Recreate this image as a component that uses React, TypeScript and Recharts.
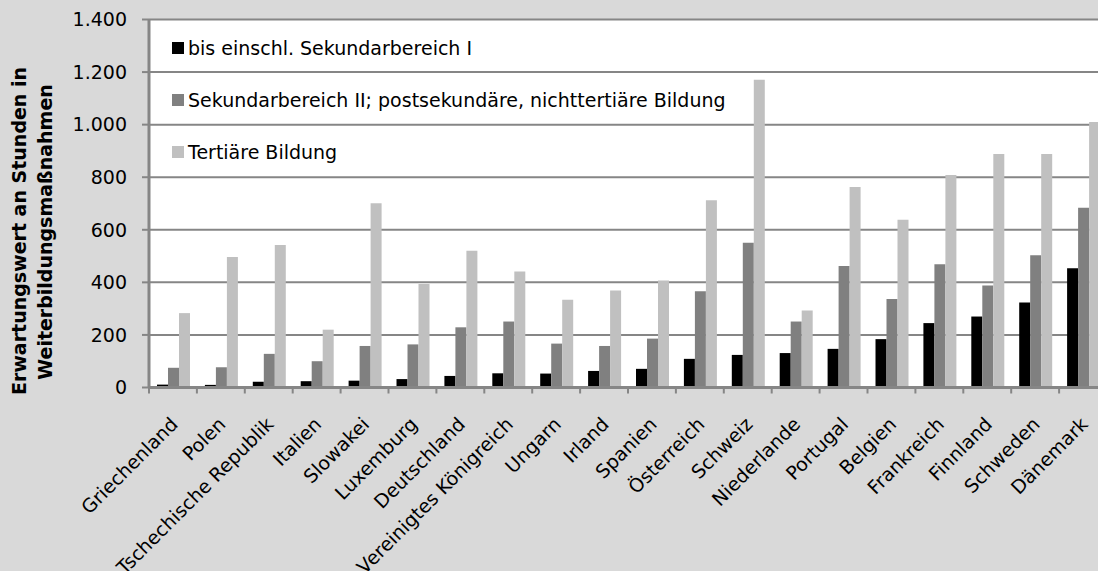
import { Bar, BarChart, CartesianGrid, Label, Legend, XAxis, YAxis } from "recharts";

const countries = [
  "Griechenland",
  "Polen",
  "Tschechische Republik",
  "Italien",
  "Slowakei",
  "Luxemburg",
  "Deutschland",
  "Vereinigtes Königreich",
  "Ungarn",
  "Irland",
  "Spanien",
  "Österreich",
  "Schweiz",
  "Niederlande",
  "Portugal",
  "Belgien",
  "Frankreich",
  "Finnland",
  "Schweden",
  "Dänemark",
];
const sekI = [11, 10, 22, 24, 26, 32, 44, 54, 53, 63, 71, 109, 124, 131, 147, 184, 245, 270, 323, 454];
const sekII = [75, 77, 128, 100, 158, 164, 229, 251, 167, 158, 186, 366, 551, 251, 462, 337, 469, 388, 503, 684];
const tertiaer = [283, 496, 542, 220, 701, 394, 520, 441, 334, 369, 407, 712, 1171, 293, 763, 638, 808, 888, 888, 1010];
const yTicks = [0, 200, 400, 600, 800, 1000, 1200, 1400];
const seriesNames = [
  "bis einschl. Sekundarbereich I",
  "Sekundarbereich II; postsekundäre, nichttertiäre Bildung",
  "Tertiäre Bildung",
];

const data = countries.map((land, i) => ({
  land,
  sekI: sekI[i],
  sekII: sekII[i],
  tertiaer: tertiaer[i],
}));

const W = 1107;
const H = 571;
const AXIS_W = 149;
const band = (W - AXIS_W) / countries.length;
const FONT = "'DejaVu Sans', Verdana, sans-serif";
const GRID = "#868686";

const fmt = (v: number) => v.toLocaleString("de-DE");

function CountryTick({ x, y, payload }: any) {
  const tx = x + 6;
  const ty = y + 38;
  return (
    <g>
      <line x1={x - band / 2} y1={y} x2={x - band / 2} y2={y + 6} stroke={GRID} strokeWidth={2} />
      <text
        x={tx}
        y={ty}
        transform={`rotate(-45, ${tx}, ${ty})`}
        textAnchor="end"
        fontSize={19}
        fill="#000"
      >
        {payload.value}
      </text>
    </g>
  );
}

function YTitle() {
  return (
    <g fontWeight="bold" fontSize={19} fill="#000">
      <text transform="translate(26,231) rotate(-90)" textAnchor="middle">
        Erwartungswert an Stunden in
      </text>
      <text transform="translate(51.5,232) rotate(-90)" textAnchor="middle">
        Weiterbildungsmaßnahmen
      </text>
    </g>
  );
}

function LegendBox({ payload }: any) {
  return (
    <div style={{ fontSize: 19, fontFamily: FONT, color: "#000" }}>
      {(payload || []).map((p: any) => (
        <div key={p.value} style={{ height: 52, display: "flex", alignItems: "center" }}>
          <span style={{ width: 12, height: 12, background: p.color, marginRight: 4, display: "inline-block" }} />
          <span>{p.value}</span>
        </div>
      ))}
    </div>
  );
}

export default function App() {
  return (
    <div
      style={{
        position: "absolute",
        left: 0,
        top: 0,
        width: 1098,
        height: H,
        overflow: "hidden",
        background: "#d9d9d9",
        fontFamily: FONT,
      }}
    >
      <BarChart
        width={W}
        height={H}
        data={data}
        margin={{ top: 19.5, right: 0, bottom: 0, left: 0 }}
        barCategoryGap={8}
        barGap={0}
      >
        <CartesianGrid vertical={false} stroke={GRID} strokeWidth={2} fill="#ffffff" fillOpacity={1} />
        <XAxis
          dataKey="land"
          interval={0}
          height={183.5}
          tickSize={0}
          tickMargin={0}
          tickLine={false}
          axisLine={{ stroke: GRID, strokeWidth: 3 }}
          tick={<CountryTick />}
        />
        <YAxis
          width={AXIS_W}
          domain={[0, 1400]}
          ticks={yTicks}
          interval={0}
          tickFormatter={fmt}
          tickSize={7}
          tickMargin={15}
          tick={{ fontSize: 19, fill: "#000" }}
          tickLine={{ stroke: GRID, strokeWidth: 2 }}
          axisLine={{ stroke: GRID, strokeWidth: 3 }}
        >
          <Label content={<YTitle />} />
        </YAxis>
        <Legend
          layout="vertical"
          align="center"
          verticalAlign="middle"
          itemSorter={(item: any) => seriesNames.indexOf(item.value)}
          wrapperStyle={{ left: 172, top: 22, width: "auto" }}
          content={<LegendBox />}
        />
        <Bar dataKey="sekI" name={seriesNames[0]} fill="#000000" isAnimationActive={false} />
        <Bar dataKey="sekII" name={seriesNames[1]} fill="#808080" isAnimationActive={false} />
        <Bar dataKey="tertiaer" name={seriesNames[2]} fill="#c0c0c0" isAnimationActive={false} />
      </BarChart>
    </div>
  );
}
